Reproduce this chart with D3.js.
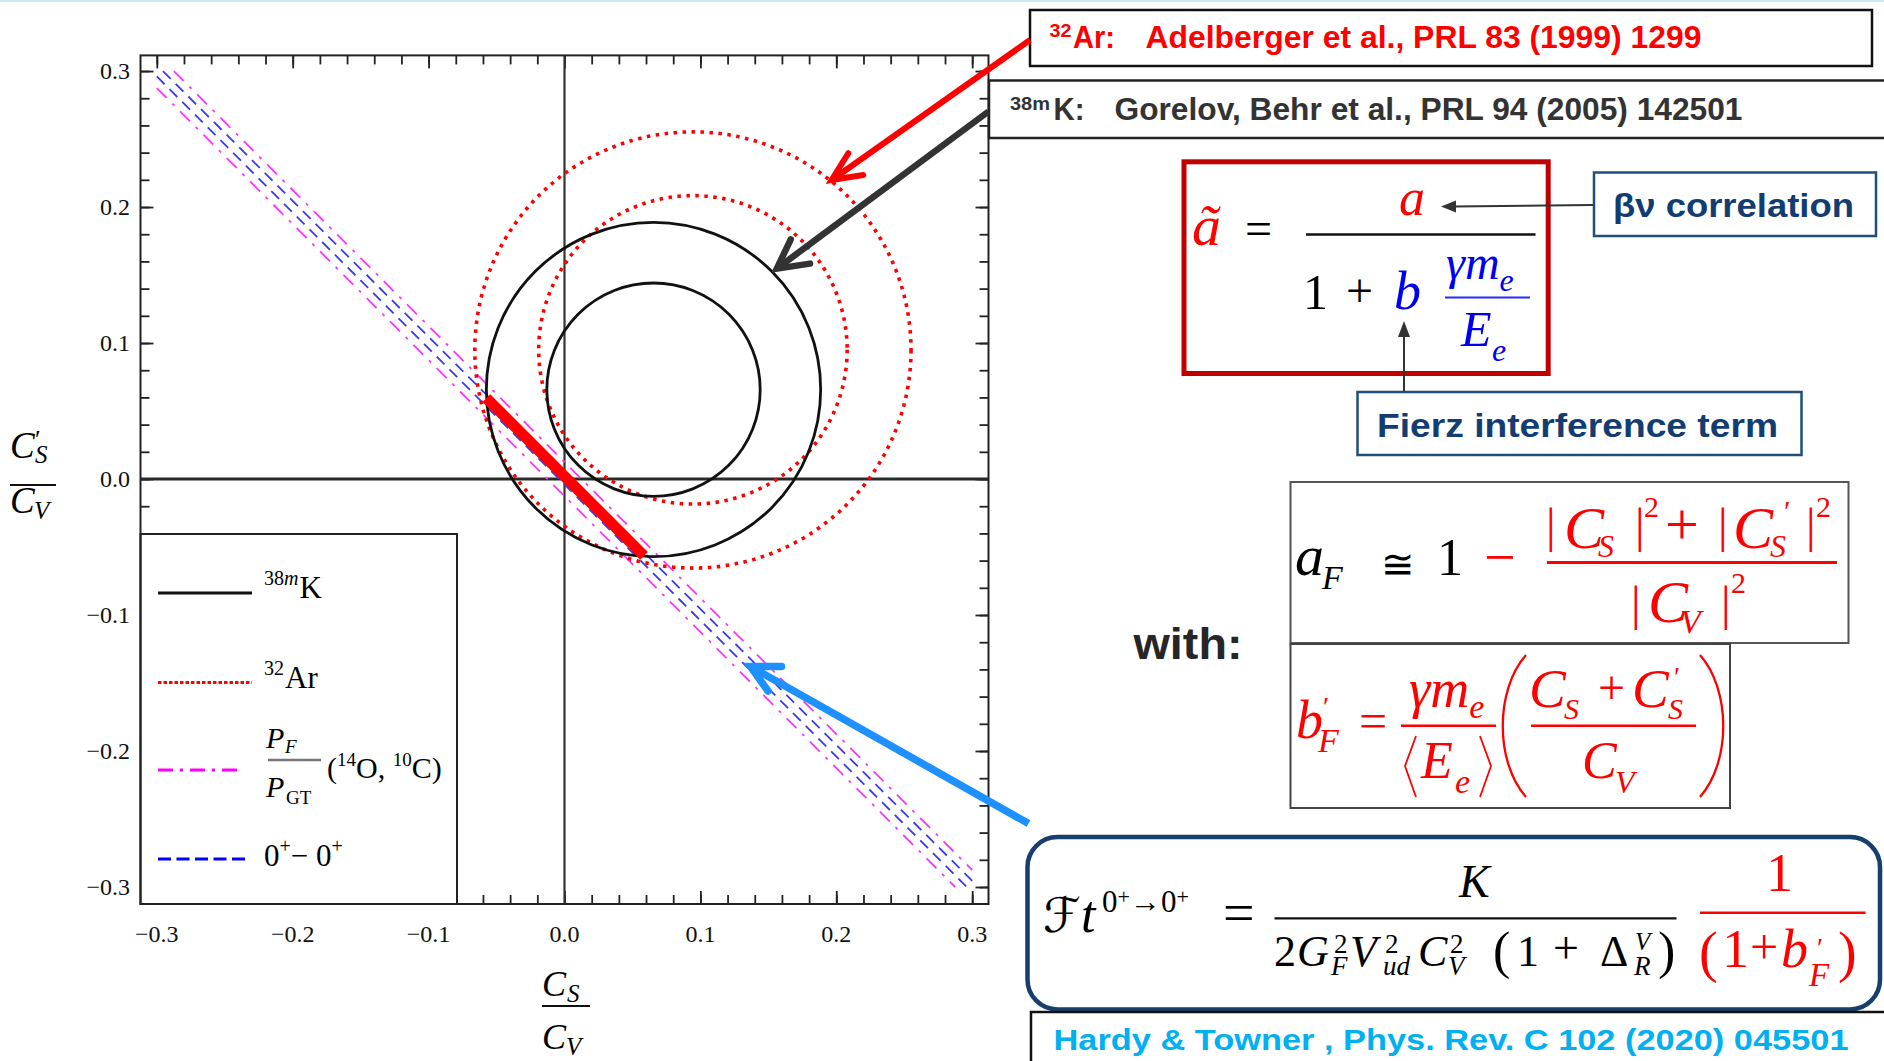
<!DOCTYPE html>
<html>
<head>
<meta charset="utf-8">
<script src="https://cdn.jsdelivr.net/npm/d3@7"></script>
<style>
  html, body { margin: 0; padding: 0; background: #fff; }
  svg { display: block; }
</style>
</head>
<body>
<script>
// ---------------------------------------------------------------
// Exclusion plot in the (C_S/C_V, C'_S/C_V) plane
// ---------------------------------------------------------------

// axis ticks and labels
const majorTicks = [-0.3, -0.2, -0.1, 0.0, 0.1, 0.2, 0.3];
const tickLabels = ["\u22120.3", "\u22120.2", "\u22120.1", "0.0", "0.1", "0.2", "0.3"];
const minorTicks = d3.range(-30, 31, 2).map(v => v / 100);

// 38mK contours (centre and radius in units of C/C_V)
const k38mCenterX = [0.0655, 0.0655];
const k38mCenterY = [0.0658, 0.0657];
const k38mRadius  = [0.1230, 0.0785];

// 32Ar contours
const ar32CenterX = [0.0945, 0.0945];
const ar32CenterY = [0.0949, 0.0950];
const ar32Radius  = [0.1605, 0.1135];

// 0+ - 0+ band (Ft values), two edges
const ftBandX1 = [-0.300, -0.2955];
const ftBandY1 = [ 0.296,  0.300];
const ftBandX2 = [ 0.296,  0.300];
const ftBandY2 = [-0.300, -0.2955];

// P_F / P_GT band (14O, 10C), two edges
const pfBandX1 = [-0.300, -0.2875];
const pfBandY1 = [ 0.2875, 0.300];
const pfBandX2 = [ 0.2875, 0.300];
const pfBandY2 = [-0.300, -0.2875];

// combined allowed segment
const allowedX = [-0.0575, 0.0585];
const allowedY = [ 0.0595, -0.0565];

// arrow tips (data units) pointing at the contours / band
const arrowTipX = [0.1966, 0.1562, 0.1369];
const arrowTipY = [0.2199, 0.1547, -0.1379];

const W = 1884, H = 1061;
const SERIF = "'Liberation Serif', 'Times New Roman', 'DejaVu Serif', serif";
const SANS = "'Liberation Sans Narrow', 'Liberation Sans', Arial, sans-serif";
const RED = "#ff0000", BLUE = "#0000ee";

const svg = d3.select("body").append("svg")
  .attr("width", W).attr("height", H)
  .attr("viewBox", `0 0 ${W} ${H}`);

svg.append("rect").attr("width", W).attr("height", H).attr("fill", "#fff");
svg.append("rect").attr("width", W).attr("height", 2).attr("fill", "#cde9f7");

// ---------- scales ----------
const X0 = 140.5, X1 = 988.5, Y0 = 55.4, Y1 = 904;
const x = d3.scaleLinear().domain([-0.312, 0.312]).range([X0, X1]);
const y = d3.scaleLinear().domain([-0.3125, 0.3115]).range([Y1, Y0]);

// ---------- text helpers ----------
function txt(g, px, py, s, o = {}) {
  const t = g.append("text").attr("x", px).attr("y", py).text(s)
    .attr("font-family", o.ff || SERIF)
    .attr("font-size", o.size || 20)
    .attr("fill", o.color || "#000");
  if (o.italic) t.attr("font-style", "italic");
  if (o.bold) t.attr("font-weight", "bold");
  if (o.anchor) t.attr("text-anchor", o.anchor);
  if (o.len) t.attr("textLength", o.len).attr("lengthAdjust", "spacingAndGlyphs");
  return t;
}
function rich(g, px, py, parts, o = {}) {
  const t = g.append("text").attr("x", px).attr("y", py)
    .attr("font-family", o.ff || SERIF)
    .attr("fill", o.color || "#000");
  if (o.anchor) t.attr("text-anchor", o.anchor);
  let cur = 0;
  parts.forEach(p => {
    const s = t.append("tspan").text(p.t).attr("font-size", p.size || o.size || 20);
    const off = p.off || 0;
    if (off !== cur) { s.attr("dy", off - cur); cur = off; }
    if (p.dx) s.attr("dx", p.dx);
    if (p.italic !== undefined ? p.italic : o.italic) s.attr("font-style", "italic");
    if (p.color) s.attr("fill", p.color);
  });
  return t;
}
function hline(g, xa, xb, yy, color, w) {
  g.append("line").attr("x1", xa).attr("x2", xb).attr("y1", yy).attr("y2", yy)
    .attr("stroke", color).attr("stroke-width", w);
}

// ---------- plot ----------
const plot = svg.append("g");

function tickAxis(gen, tr, scale, vals, size) {
  const a = plot.append("g").attr("transform", tr)
    .call(gen(scale).tickValues(vals).tickSize(size).tickFormat(""));
  a.select(".domain").remove();
  a.selectAll("line").attr("stroke", "#222").attr("stroke-width", 1.8);
}
[[minorTicks, 9], [majorTicks, 13]].forEach(([vals, size]) => {
  tickAxis(d3.axisTop,    `translate(0,${Y1})`, x, vals, size);
  tickAxis(d3.axisBottom, `translate(0,${Y0})`, x, vals, size);
  tickAxis(d3.axisRight,  `translate(${X0},0)`, y, vals, size);
  tickAxis(d3.axisLeft,   `translate(${X1},0)`, y, vals, size);
});

// zero lines
plot.append("line").attr("x1", X0).attr("x2", X1).attr("y1", y(0)).attr("y2", y(0))
  .attr("stroke", "#2a2a2a").attr("stroke-width", 2.8);
plot.append("line").attr("x1", x(0)).attr("x2", x(0)).attr("y1", Y0).attr("y2", Y1)
  .attr("stroke", "#333").attr("stroke-width", 2.2);

// bands
const lineGen = d3.line().x(d => x(d[0])).y(d => y(d[1]));
const pfEdges = pfBandX1.map((v, i) => [[v, pfBandY1[i]], [pfBandX2[i], pfBandY2[i]]]);
const ftEdges = ftBandX1.map((v, i) => [[v, ftBandY1[i]], [ftBandX2[i], ftBandY2[i]]]);
plot.selectAll(".pf").data(pfEdges).join("path").attr("class", "pf")
  .attr("d", lineGen).attr("fill", "none")
  .attr("stroke", "#ff33ff").attr("stroke-width", 1.8)
  .attr("stroke-dasharray", "14,8,3,8");
plot.selectAll(".ft").data(ftEdges).join("path").attr("class", "ft")
  .attr("d", lineGen).attr("fill", "none")
  .attr("stroke", "#3a3af2").attr("stroke-width", 1.8)
  .attr("stroke-dasharray", "11,7");

// contours
const k38m = k38mRadius.map((r, i) => ({ cx: k38mCenterX[i], cy: k38mCenterY[i], r }));
const ar32 = ar32Radius.map((r, i) => ({ cx: ar32CenterX[i], cy: ar32CenterY[i], r }));
plot.selectAll(".ar").data(ar32).join("circle").attr("class", "ar")
  .attr("cx", d => x(d.cx)).attr("cy", d => y(d.cy)).attr("r", d => x(d.r) - x(0))
  .attr("fill", "none").attr("stroke", RED).attr("stroke-width", 3.6)
  .attr("stroke-dasharray", "3.5,5.5");
plot.selectAll(".k").data(k38m).join("circle").attr("class", "k")
  .attr("cx", d => x(d.cx)).attr("cy", d => y(d.cy)).attr("r", d => x(d.r) - x(0))
  .attr("fill", "none").attr("stroke", "#111").attr("stroke-width", 2.8);

// allowed segment
plot.append("path")
  .attr("d", lineGen(allowedX.map((v, i) => [v, allowedY[i]])))
  .attr("stroke", RED).attr("stroke-width", 11).attr("fill", "none");

// legend
const leg = svg.append("g");
leg.append("rect").attr("x", X0).attr("y", 534).attr("width", 457 - X0).attr("height", Y1 - 534)
  .attr("fill", "#fff").attr("stroke", "#222").attr("stroke-width", 2);
const legendRows = [
  { y: 593, color: "#111", dash: null },
  { y: 682.5, color: RED, dash: "3.5,2" },
  { y: 770, color: "#ff00ff", dash: "15,7,3,7" },
  { y: 859, color: "#0000ff", dash: "13,5.5" }
];
const legendEnd = [252, 252, 240, 247];
leg.selectAll(".ll").data(legendRows).join("line").attr("class", "ll")
  .attr("x1", 158).attr("x2", (d, i) => legendEnd[i])
  .attr("y1", d => d.y).attr("y2", d => d.y)
  .attr("stroke", d => d.color).attr("stroke-width", 3.2)
  .attr("stroke-dasharray", d => d.dash);
rich(leg, 264, 598, [
  { t: "38", size: 20, off: -13 }, { t: "m", size: 20, off: -13, italic: true },
  { t: "K", size: 31, off: 0, dx: 1 }]);
rich(leg, 264, 688, [{ t: "32", size: 20, off: -13 }, { t: "Ar", size: 31, off: 0, dx: 1 }]);
txt(leg, 266, 748, "P", { size: 30, italic: true });
txt(leg, 285, 753, "F", { size: 19, italic: true });
hline(leg, 268, 321, 760, "#777", 2.4);
txt(leg, 266, 797, "P", { size: 30, italic: true });
txt(leg, 286, 804, "GT", { size: 19 });
rich(leg, 327, 778, [
  { t: "(", size: 30 }, { t: "14", size: 19, off: -12 }, { t: "O, ", size: 30, off: 0 },
  { t: "10", size: 19, off: -12 }, { t: "C)", size: 30, off: 0 }]);
rich(leg, 264, 866, [
  { t: "0", size: 31 }, { t: "+", size: 20, off: -13 }, { t: "\u2212 0", size: 31, off: 0 },
  { t: "+", size: 20, off: -13 }]);

// frame
svg.append("rect").attr("x", X0).attr("y", Y0).attr("width", X1 - X0).attr("height", Y1 - Y0)
  .attr("fill", "none").attr("stroke", "#222").attr("stroke-width", 2);

// tick labels
const lab = svg.append("g");
lab.selectAll(".xl").data(majorTicks).join("text").attr("class", "xl")
  .attr("x", d => x(d)).attr("y", 942).attr("text-anchor", "middle")
  .attr("font-family", SERIF).attr("font-size", 24).attr("fill", "#111")
  .text((d, i) => tickLabels[i]);
lab.selectAll(".yl").data(majorTicks).join("text").attr("class", "yl")
  .attr("x", 130).attr("y", d => y(d) + 8).attr("text-anchor", "end")
  .attr("font-family", SERIF).attr("font-size", 24).attr("fill", "#111")
  .text((d, i) => tickLabels[i]);

// axis titles
txt(lab, 10, 458, "C", { size: 37, italic: true });
txt(lab, 35, 448, "\u2032", { size: 26 });
txt(lab, 35, 463, "S", { size: 25, italic: true });
hline(lab, 10, 56, 485, "#111", 2.2);
txt(lab, 10, 513, "C", { size: 37, italic: true });
txt(lab, 34, 519, "V", { size: 25, italic: true });

txt(lab, 542, 996, "C", { size: 36, italic: true });
txt(lab, 567, 1002, "S", { size: 25, italic: true });
hline(lab, 542, 590, 1006, "#111", 2.2);
txt(lab, 542, 1049, "C", { size: 36, italic: true });
txt(lab, 566, 1055, "V", { size: 25, italic: true });

// ---------- reference boxes ----------
const ann = svg.append("g");
ann.append("rect").attr("x", 1030).attr("y", 10).attr("width", 842).attr("height", 56)
  .attr("fill", "#fff").attr("stroke", "#111").attr("stroke-width", 2.5);
txt(ann, 1049.5, 37, "32", { ff: SANS, size: 19, bold: true, color: RED, len: 22 });
txt(ann, 1073, 48, "Ar:", { ff: SANS, size: 31, bold: true, color: RED, len: 42 });
txt(ann, 1145.5, 48, "Adelberger et al., PRL 83 (1999) 1299",
  { ff: SANS, size: 31, bold: true, color: RED, len: 556 });

ann.append("rect").attr("x", 989).attr("y", 80.5).attr("width", 910).attr("height", 57.5)
  .attr("fill", "#fff").attr("stroke", "#222").attr("stroke-width", 2.5);
txt(ann, 1010, 110, "38m", { ff: SANS, size: 19, bold: true, color: "#333", len: 40 });
txt(ann, 1053.5, 120, "K:", { ff: SANS, size: 31, bold: true, color: "#333", len: 31 });
txt(ann, 1114.5, 120, "Gorelov, Behr et al., PRL 94 (2005) 142501",
  { ff: SANS, size: 31, bold: true, color: "#333", len: 628 });

// ---------- formula: a-tilde ----------
const fa = svg.append("g");
fa.append("rect").attr("x", 1184).attr("y", 161.8).attr("width", 364.2).attr("height", 211.7)
  .attr("fill", "#fff").attr("stroke", "#c00000").attr("stroke-width", 5);
txt(fa, 1192, 245, "\u00e3", { size: 58, italic: true, color: RED });
txt(fa, 1245, 245, "=", { size: 48 });
hline(fa, 1306, 1535.5, 234.5, "#111", 2.6);
txt(fa, 1399, 215, "a", { size: 52, italic: true, color: RED });
txt(fa, 1303, 309, "1", { size: 50 });
txt(fa, 1346, 307, "+", { size: 48 });
txt(fa, 1394, 309, "b", { size: 54, italic: true, color: BLUE });
rich(fa, 1446, 279, [{ t: "\u03b3m", size: 48 }, { t: "e", size: 32, off: 12 }], { italic: true, color: BLUE });
hline(fa, 1445, 1530, 297.5, "#2a2aff", 2);
txt(fa, 1461, 346, "E", { size: 50, italic: true, color: BLUE });
txt(fa, 1492, 361, "e", { size: 32, italic: true, color: BLUE });

// small labelled callouts
fa.append("rect").attr("x", 1594).attr("y", 172.5).attr("width", 282).attr("height", 63.5)
  .attr("fill", "#fff").attr("stroke", "#1f4e79").attr("stroke-width", 2.5);
txt(fa, 1613, 216.5, "\u03b2\u03bd correlation", { ff: SANS, size: 34, bold: true, color: "#113d73", len: 241 });
fa.append("line").attr("x1", 1593).attr("y1", 205).attr("x2", 1454).attr("y2", 206.5)
  .attr("stroke", "#333").attr("stroke-width", 2);
fa.append("path").attr("d", "M1441,206.5 L1456,200.5 L1456,212.5 Z").attr("fill", "#333");

fa.append("rect").attr("x", 1357.5).attr("y", 392).attr("width", 444).attr("height", 63)
  .attr("fill", "#fff").attr("stroke", "#1f4e79").attr("stroke-width", 2.5);
txt(fa, 1377, 437, "Fierz interference term", { ff: SANS, size: 33, bold: true, color: "#113d73", len: 401 });
fa.append("line").attr("x1", 1404).attr("y1", 391).attr("x2", 1404).attr("y2", 334)
  .attr("stroke", "#333").attr("stroke-width", 2);
fa.append("path").attr("d", "M1404,321 L1398,337 L1410,337 Z").attr("fill", "#333");

// ---------- "with:" ----------
txt(svg, 1133.5, 659, "with:", { ff: SANS, size: 45, bold: true, color: "#262626", len: 109 });

// ---------- formula: a_F ----------
const fb = svg.append("g");
fb.append("rect").attr("x", 1290.5).attr("y", 482).attr("width", 558).attr("height", 161)
  .attr("fill", "#fff").attr("stroke", "#555").attr("stroke-width", 2);
txt(fb, 1295, 575, "a", { size: 58, italic: true });
txt(fb, 1322, 589, "F", { size: 34, italic: true });
txt(fb, 1381, 578, "\u2245", { size: 40 });
txt(fb, 1437, 575, "1", { size: 52 });
txt(fb, 1484, 576, "\u2212", { size: 56, color: RED });
[1546, 1635, 1718, 1806].forEach(px => txt(fb, px, 542, "|", { size: 48, color: RED }));
txt(fb, 1564, 548, "C", { size: 60, italic: true, color: RED });
txt(fb, 1598, 557, "S", { size: 32, italic: true, color: RED });
txt(fb, 1644, 517, "2", { size: 30, color: RED });
txt(fb, 1665, 544, "+", { size: 60, color: RED });
txt(fb, 1733, 548, "C", { size: 60, italic: true, color: RED });
txt(fb, 1784, 521, "\u2032", { size: 30, color: RED });
txt(fb, 1770, 557, "S", { size: 32, italic: true, color: RED });
txt(fb, 1816, 517, "2", { size: 30, color: RED });
hline(fb, 1547, 1837, 562.5, RED, 3);
[1631, 1721].forEach(px => txt(fb, px, 620, "|", { size: 48, color: RED }));
txt(fb, 1648, 622, "C", { size: 60, italic: true, color: RED });
txt(fb, 1680, 633, "V", { size: 34, italic: true, color: RED });
txt(fb, 1731, 593, "2", { size: 30, color: RED });

// ---------- formula: b'_F ----------
const fc = svg.append("g");
fc.append("rect").attr("x", 1290.5).attr("y", 644).attr("width", 439.5).attr("height", 164)
  .attr("fill", "#fff").attr("stroke", "#444").attr("stroke-width", 2);
txt(fc, 1296, 738, "b", { size: 54, italic: true, color: RED });
txt(fc, 1323, 716, "\u2032", { size: 28, color: RED });
txt(fc, 1318, 752, "F", { size: 34, italic: true, color: RED });
txt(fc, 1359, 738, "=", { size: 50, color: RED });
rich(fc, 1409, 707, [{ t: "\u03b3m", size: 54 }, { t: "e", size: 34, off: 11 }], { italic: true, color: RED });
hline(fc, 1401, 1496, 725.7, RED, 2.6);
fc.append("path").attr("d", "M1416,736 L1405,766 L1416,797").attr("fill", "none")
  .attr("stroke", RED).attr("stroke-width", 1.8);
txt(fc, 1421, 778, "E", { size: 52, italic: true, color: RED });
txt(fc, 1455, 793, "e", { size: 34, italic: true, color: RED });
fc.append("path").attr("d", "M1480,736 L1491,766 L1480,797").attr("fill", "none")
  .attr("stroke", RED).attr("stroke-width", 1.8);
fc.append("path").attr("d", "M1526,655 C1495,690 1495,762 1526,797").attr("fill", "none")
  .attr("stroke", RED).attr("stroke-width", 2.3);
fc.append("path").attr("d", "M1700,655 C1731,690 1731,762 1700,797").attr("fill", "none")
  .attr("stroke", RED).attr("stroke-width", 2.3);
txt(fc, 1529, 707, "C", { size: 55, italic: true, color: RED });
txt(fc, 1564, 719, "S", { size: 30, italic: true, color: RED });
txt(fc, 1598, 704, "+", { size: 48, color: RED });
txt(fc, 1632, 707, "C", { size: 55, italic: true, color: RED });
txt(fc, 1674, 686, "\u2032", { size: 28, color: RED });
txt(fc, 1668, 719, "S", { size: 30, italic: true, color: RED });
hline(fc, 1531, 1696, 725.7, RED, 2.6);
txt(fc, 1582, 778, "C", { size: 52, italic: true, color: RED });
txt(fc, 1615, 793, "V", { size: 32, italic: true, color: RED });

// ---------- formula: Ft ----------
const fd = svg.append("g");
fd.append("rect").attr("x", 1027.5).attr("y", 837).attr("width", 852.5).attr("height", 172.5)
  .attr("rx", 30).attr("ry", 30)
  .attr("fill", "#fff").attr("stroke", "#173f6d").attr("stroke-width", 4.5);
txt(fd, 1043, 932, "\u2131", { ff: "'DejaVu Serif', 'DejaVu Sans', serif", size: 48, italic: true });
txt(fd, 1081, 932, "t", { size: 52, italic: true });
rich(fd, 1102, 912, [
  { t: "0", size: 31 }, { t: "+", size: 22, off: -8 }, { t: "\u2192", size: 31, off: 0 },
  { t: "0", size: 31 }, { t: "+", size: 22, off: -8 }]);
txt(fd, 1223, 932, "=", { size: 56 });
txt(fd, 1459, 897, "K", { size: 46, italic: true });
hline(fd, 1274.5, 1676.5, 918.3, "#111", 2.2);
txt(fd, 1274, 966, "2", { size: 44 });
txt(fd, 1297, 966, "G", { size: 44, italic: true });
txt(fd, 1334, 953, "2", { size: 27 });
txt(fd, 1331, 975, "F", { size: 27, italic: true });
txt(fd, 1350, 966, "V", { size: 44, italic: true });
txt(fd, 1385, 953, "2", { size: 27 });
txt(fd, 1383, 975, "ud", { size: 27, italic: true });
txt(fd, 1418, 966, "C", { size: 44, italic: true });
txt(fd, 1450, 953, "2", { size: 27 });
txt(fd, 1448, 975, "V", { size: 27, italic: true });
txt(fd, 1493, 968, "(", { size: 52 });
txt(fd, 1517, 966, "1", { size: 44 });
txt(fd, 1553, 963, "+", { size: 46 });
txt(fd, 1600, 966, "\u0394", { size: 44 });
txt(fd, 1635, 950, "V", { size: 25, italic: true });
txt(fd, 1634, 975, "R", { size: 27, italic: true });
txt(fd, 1658, 968, ")", { size: 52 });
txt(fd, 1766, 891, "1", { size: 54, color: RED });
hline(fd, 1700, 1865.5, 912.7, RED, 2.6);
txt(fd, 1699, 971, "(", { size: 56, color: RED });
txt(fd, 1722, 967, "1", { size: 54, color: RED });
txt(fd, 1750, 964, "+", { size: 50, color: RED });
txt(fd, 1781, 967, "b", { size: 54, italic: true, color: RED });
txt(fd, 1817, 957, "\u2032", { size: 28, color: RED });
txt(fd, 1809, 986, "F", { size: 33, italic: true, color: RED });
txt(fd, 1838, 971, ")", { size: 56, color: RED });

// ---------- citation ----------
svg.append("rect").attr("x", 1031).attr("y", 1012).attr("width", 870).attr("height", 70)
  .attr("fill", "#fff").attr("stroke", "#111").attr("stroke-width", 2.5);
txt(svg, 1053.5, 1050, "Hardy & Towner , Phys. Rev. C 102 (2020) 045501",
  { ff: SANS, size: 30, bold: true, color: "#00b0f0", len: 795 });

// ---------- arrows ----------
const arrows = [
  { from: [1030, 40],     color: "#ff0000", w: 6, barbs: [[16.6, -26.7], [31.6, -5]] },
  { from: [988.5, 111.5], color: "#333333", w: 6.5, barbs: [[14, -29.3], [33.2, -5]] },
  { from: [1028.5, 823.5], color: "#1e90ff", w: 7.5, barbs: [[31, 0], [17.5, 24.5]] }
];
const ag = svg.append("g");
arrows.forEach((a, i) => {
  const tx = x(arrowTipX[i]), ty = y(arrowTipY[i]);
  ag.append("line").attr("x1", a.from[0]).attr("y1", a.from[1]).attr("x2", tx).attr("y2", ty)
    .attr("stroke", a.color).attr("stroke-width", a.w);
  ag.append("path")
    .attr("d", `M${tx + a.barbs[0][0]},${ty + a.barbs[0][1]} L${tx},${ty} L${tx + a.barbs[1][0]},${ty + a.barbs[1][1]}`)
    .attr("fill", "none").attr("stroke", a.color).attr("stroke-width", a.w)
    .attr("stroke-linecap", "round").attr("stroke-linejoin", "miter");
});
</script>
</body>
</html>
